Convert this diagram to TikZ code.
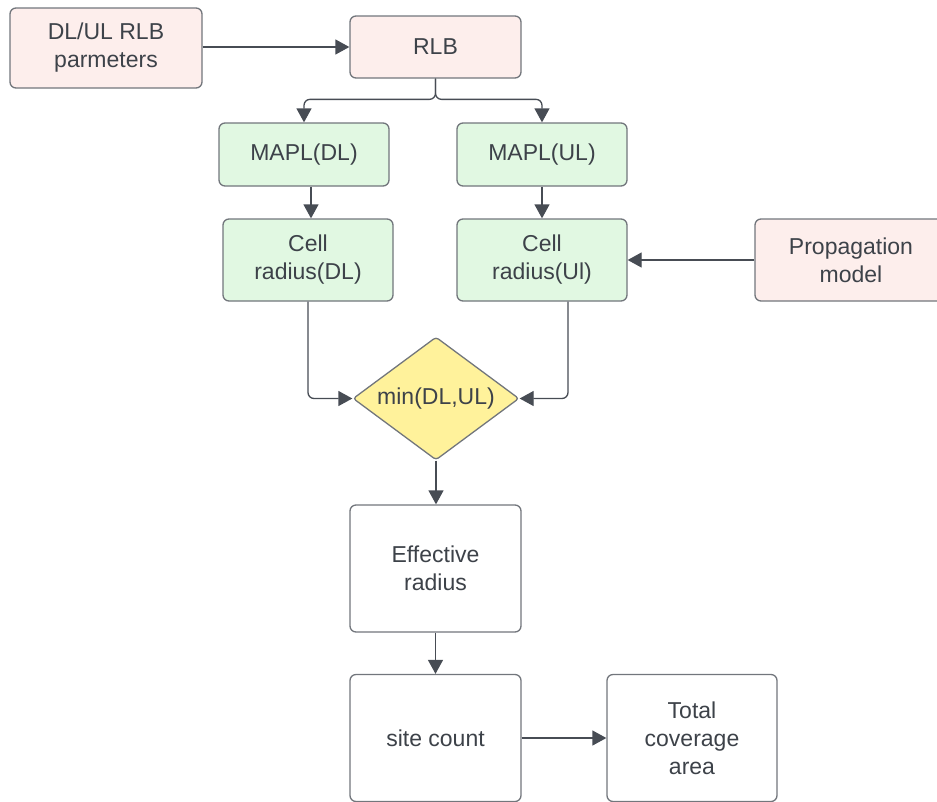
\documentclass[tikz,border=0pt]{standalone}
\usepackage{fontspec}
\setmainfont{Liberation Sans}
\usetikzlibrary{arrows.meta,shapes.geometric,calc}

\definecolor{pinkfill}{HTML}{FDEEEC}
\definecolor{greenfill}{HTML}{E1F8E2}
\definecolor{yellowfill}{HTML}{FFF29B}
\definecolor{boxline}{HTML}{72767C}
\definecolor{wire}{HTML}{474C54}
\definecolor{ink}{HTML}{3D4249}

\tikzset{
  box/.style={draw=boxline, line width=1.3pt, rounded corners=6pt,
    inner sep=0pt, align=center, text=ink,
    font=\fontsize{23}{28}\selectfont},
  pinkbox/.style={box, fill=pinkfill},
  greenbox/.style={box, fill=greenfill},
  whitebox/.style={box, fill=white},
  decision/.style={diamond, draw=boxline, line width=1.3pt, fill=yellowfill,
    rounded corners=3pt, inner sep=0pt, aspect=1.35, text=ink,
    minimum width=166pt, minimum height=123pt,
    font=\fontsize{23}{28}\selectfont},
  arr/.style={draw=wire, line width=1.3pt,
    -{Triangle[length=14pt,width=15pt]}},
}

\begin{document}
\begin{tikzpicture}[x=1pt,y=-1pt]
  \useasboundingbox (0,0) rectangle (937,801);

  % input blocks
  \node[pinkbox, minimum width=192pt, minimum height=80pt] (dlul) at (106,48) {DL/UL RLB\\parmeters};
  \node[pinkbox, minimum width=171pt, minimum height=62pt] (rlb) at (435.5,47) {RLB};

  % link budget branches
  \node[greenbox, minimum width=170pt, minimum height=63pt] (mapldl) at (304,154.5) {MAPL(DL)};
  \node[greenbox, minimum width=170pt, minimum height=63pt] (maplul) at (542,154.5) {MAPL(UL)};
  \node[greenbox, minimum width=170pt, minimum height=82pt] (celldl) at (308,260) {Cell\\radius(DL)};
  \node[greenbox, minimum width=170pt, minimum height=82pt] (cellul) at (542,260) {Cell\\radius(Ul)};
  \node[pinkbox, minimum width=192pt, minimum height=82pt] (prop) at (851,260) {Propagation\\model};

  % decision and results
  \node[decision] (minnode) at (436,398.5) {min(DL,UL)};
  \node[whitebox, minimum width=171pt, minimum height=127pt] (eff) at (435.5,568.5) {Effective\\radius};
  \node[whitebox, minimum width=171pt, minimum height=127pt] (site) at (435.5,738) {site count};
  \node[whitebox, minimum width=170pt, minimum height=127pt] (total) at (692,738) {Total\\coverage\\area};

  % connectors
  \draw[arr] (dlul.east |- rlb.west) -- (rlb.west);
  \draw[arr, rounded corners=6pt] (rlb.south) |- ([yshift=23pt]mapldl.north) -- (mapldl.north);
  \draw[arr, rounded corners=6pt] (rlb.south) |- ([yshift=23pt]maplul.north) -- (maplul.north);
  \draw[arr] ([xshift=3pt]celldl.north |- mapldl.south) -- ([xshift=3pt]celldl.north);
  \draw[arr] (maplul.south) -- (cellul.north);
  \draw[arr] (prop.west) -- (cellul.east);
  \draw[arr, rounded corners=6pt] (celldl.south) |- (minnode.west);
  \draw[arr, rounded corners=6pt] ([xshift=26pt]cellul.south) |- (minnode.east);
  \draw[arr] (minnode.south) -- (minnode.south |- eff.north);
  \draw[arr] (eff.south) -- (site.north);
  \draw[arr] (site.east) -- (total.west);
\end{tikzpicture}
\end{document}
